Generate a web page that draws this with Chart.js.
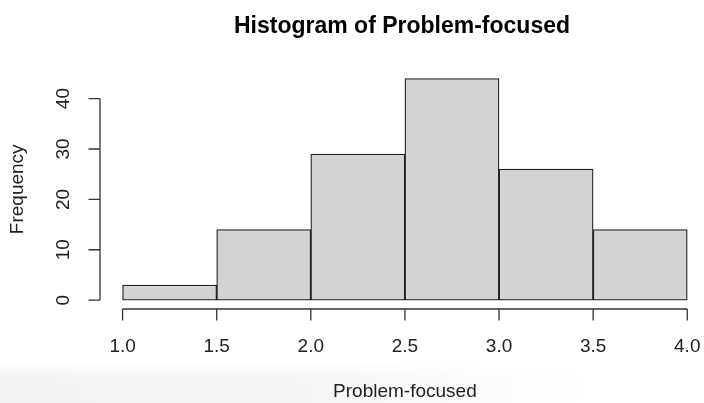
<!DOCTYPE html>
<html>
<head>
<meta charset="utf-8">
<script src="https://cdn.jsdelivr.net/npm/chart.js@4"></script>
<style>
    html, body { margin: 0; padding: 0; background: #fff; overflow: hidden; }
    #wrap { position: relative; width: 704px; height: 403px; }
    #shade {
        position: absolute; left: 0; top: 362px; width: 704px; height: 41px;
        background: linear-gradient(to bottom, #fff, rgba(255,255,255,0) 40%),
                    linear-gradient(to right, #f3f3f3, #f6f6f6 45%, #fff 85%);
    }
    #chart { position: absolute; left: 0; top: 0; }
</style>
</head>
<body>
<div id="wrap">
    <div id="shade"></div>
    <canvas id="chart" width="704" height="403"></canvas>
</div>
<script>
// histogram bins and counts
var breaks = [1.0, 1.5, 2.0, 2.5, 3.0, 3.5, 4.0];
var counts = [3, 14, 29, 44, 26, 14];
var xTicks = [1.0, 1.5, 2.0, 2.5, 3.0, 3.5, 4.0];
var yTicks = [0, 10, 20, 30, 40];
var titleText = "Histogram of Problem-focused";
var xLabel = "Problem-focused";
var yLabel = "Frequency";

var fontFamily = "'Liberation Sans', Arial, Helvetica, sans-serif";

var points = counts.map(function (c, i) {
    return { x: (breaks[i] + breaks[i + 1]) / 2, y: c };
});

// R style detached axes
var rAxes = {
    id: 'rAxes',
    afterDraw: function (chart) {
        var ctx = chart.ctx;
        var xs = chart.scales.x, ys = chart.scales.y;
        var area = chart.chartArea;
        ctx.save();
        ctx.strokeStyle = '#333';
        ctx.lineWidth = 1.3;
        ctx.fillStyle = '#222';
        ctx.font = '19px ' + fontFamily;

        // x axis
        var axY = area.bottom;
        ctx.beginPath();
        ctx.moveTo(xs.getPixelForValue(xTicks[0]), axY);
        ctx.lineTo(xs.getPixelForValue(xTicks[xTicks.length - 1]), axY);
        xTicks.forEach(function (t) {
            var px = xs.getPixelForValue(t);
            ctx.moveTo(px, axY);
            ctx.lineTo(px, axY + 11.5);
        });
        ctx.stroke();
        ctx.textAlign = 'center';
        ctx.textBaseline = 'middle';
        xTicks.forEach(function (t) {
            ctx.fillText(t.toFixed(1), xs.getPixelForValue(t), 347);
        });

        // y axis
        var axX = area.left;
        ctx.beginPath();
        ctx.moveTo(axX, ys.getPixelForValue(yTicks[0]));
        ctx.lineTo(axX, ys.getPixelForValue(yTicks[yTicks.length - 1]));
        yTicks.forEach(function (t) {
            var py = ys.getPixelForValue(t);
            ctx.moveTo(axX, py);
            ctx.lineTo(axX - 11.5, py);
        });
        ctx.stroke();
        yTicks.forEach(function (t) {
            ctx.save();
            ctx.translate(64, ys.getPixelForValue(t));
            ctx.rotate(-Math.PI / 2);
            ctx.fillText(String(t), 0, 0);
            ctx.restore();
        });

        // axis titles
        var midX = xs.getPixelForValue(2.5);
        ctx.fillText(xLabel, midX, 392);
        ctx.save();
        ctx.translate(18, (area.top + area.bottom) / 2);
        ctx.rotate(-Math.PI / 2);
        ctx.fillText(yLabel, 0, 0);
        ctx.restore();
        ctx.restore();
    }
};

var chart = new Chart(document.getElementById('chart'), {
    type: 'bar',
    data: {
        datasets: [{
            label: 'Frequency',
            data: points,
            backgroundColor: '#d3d3d3',
            borderColor: '#222',
            borderWidth: 1.3,
            borderSkipped: false,
            barPercentage: 1,
            categoryPercentage: 1
        }]
    },
    options: {
        responsive: false,
        animation: false,
        layout: { padding: { left: 100, right: 0, top: 0, bottom: 94 } },
        scales: {
            x: { type: 'linear', display: false, offset: false, min: 0.88, max: 4.089 },
            y: { display: false, min: -1.76, max: 45.76 }
        },
        plugins: {
            legend: { display: false },
            tooltip: { enabled: false },
            title: {
                display: true,
                text: titleText,
                color: '#000',
                font: { family: fontFamily, size: 23, weight: 'bold' },
                padding: { top: 13, bottom: 29 },
                align: 'center'
            }
        }
    },
    plugins: [rAxes]
});
</script>
</body>
</html>
